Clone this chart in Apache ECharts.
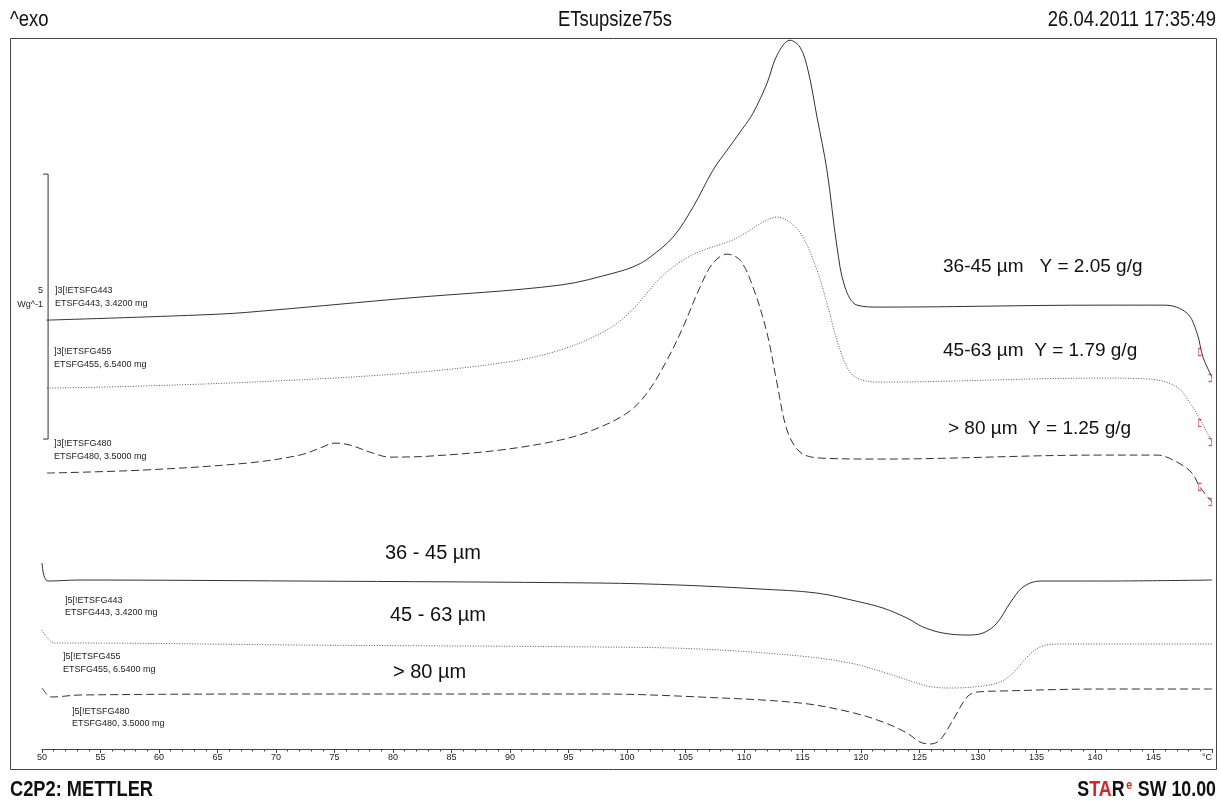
<!DOCTYPE html>
<html>
<head>
<meta charset="utf-8">
<script src="https://cdn.jsdelivr.net/npm/echarts@6/dist/echarts.min.js"></script>
<style>
html,body{margin:0;padding:0;background:#fff;}
#c{width:1221px;height:802px;}
</style>
</head>
<body>
<div id="c"></div>
<script>
// x: temperature (°C), y: heat flow offset in W/g (5 W/g scale bar)
var upper_36_45 = [[50.40,8.094],[65.21,8.208],[69.74,8.283],[81.20,8.509],[94.27,8.755],[99.15,9.000],[100.85,9.132],[101.97,9.283],[103.93,9.660],[105.64,10.226],[107.35,10.925],[108.55,11.302],[109.91,11.717],[110.77,12.000],[111.97,12.566],[112.82,13.094],[113.93,13.377],[114.79,13.245],[115.47,12.811],[116.24,11.925],[117.09,10.925],[117.95,9.472],[118.63,8.717],[119.66,8.377],[121.62,8.340],[140.43,8.377],[145.98,8.377],[147.86,8.226],[148.72,7.849],[149.23,7.396],[150.0,7.019]];
var upper_45_63 = [[50.43,6.811],[58.38,6.849],[69.74,6.943],[81.20,7.094],[89.74,7.302],[94.27,7.528],[97.95,7.868],[100.0,8.189],[101.71,8.604],[102.82,8.887],[104.79,9.226],[106.50,9.415],[108.80,9.585],[110.26,9.755],[111.62,9.943],[112.82,10.038],[113.93,9.943],[115.04,9.660],[116.24,9.038],[117.09,8.415],[117.95,7.717],[118.80,7.208],[119.66,7.000],[121.62,6.925],[140.43,7.000],[144.70,6.981],[147.01,6.830],[148.12,6.528],[149.15,6.151],[150.0,5.792]];
var upper_80 = [[50.43,5.208],[58.63,5.264],[67.52,5.396],[72.05,5.547],[73.76,5.679],[75.04,5.774],[76.32,5.736],[78.03,5.604],[79.74,5.509],[83.16,5.528],[89.15,5.642],[94.27,5.830],[97.09,6.019],[100.0,6.340],[101.71,6.717],[103.42,7.340],[104.79,7.962],[106.24,8.717],[107.35,9.170],[108.55,9.340],[109.66,9.226],[110.77,8.717],[111.97,7.849],[112.82,6.906],[113.68,6.019],[114.79,5.604],[116.50,5.491],[121.62,5.472],[140.43,5.547],[145.30,5.547],[147.01,5.415],[148.29,5.208],[148.97,4.943],[150.0,4.660]];
var lower_36_45 = [[50.0,3.509],[50.51,3.170],[53.25,3.189],[72.05,3.170],[97.69,3.132],[104.53,3.094],[111.37,3.019],[116.24,2.943],[119.91,2.774],[121.88,2.660],[123.93,2.472],[125.30,2.302],[127.01,2.189],[129.06,2.151],[130.43,2.189],[131.62,2.377],[132.74,2.755],[133.85,3.057],[135.30,3.170],[140.43,3.170],[150.0,3.189]];
var lower_45_63 = [[50.0,2.245],[51.11,2.0],[53.25,2.0],[72.05,1.962],[97.69,1.925],[106.24,1.887],[114.79,1.755],[119.06,1.623],[121.88,1.453],[124.79,1.245],[126.15,1.170],[127.61,1.151],[130.43,1.189],[131.88,1.264],[132.99,1.434],[134.19,1.736],[135.30,1.925],[136.75,1.981],[140.43,1.981],[150.0,1.981]];
var lower_80 = [[50.0,1.151],[50.85,0.981],[53.25,1.019],[72.05,1.038],[97.69,1.038],[106.24,0.981],[114.79,0.868],[119.06,0.698],[121.88,0.509],[123.93,0.302],[125.04,0.132],[125.90,0.094],[126.75,0.170],[127.86,0.547],[129.06,0.981],[129.91,1.075],[131.88,1.094],[140.43,1.132],[150.0,1.132]];
var scaleBar = [[50.09,10.85],[50.52,10.85],[50.52,5.85],[50.09,5.85]];
var limitOpen = [[148.97,7.491],[148.97,6.151],[148.97,4.943]];
var limitClose = [[150.0,7.0],[150.0,5.792],[150.0,4.660]];
var xTickLabels = ['50','55','60','65','70','75','80','85','90','95','100','105','110','115','120','125','130','135','140','145','°C'];

var chart = echarts.init(document.getElementById('c'), null, {renderer:'canvas'});
var F = 'Liberation Sans, Arial, sans-serif';
function lineSeries(data, type, color){
  return {type:'line', data:data, showSymbol:false, smooth:0.35, silent:true,
    lineStyle:{color:color, width:1, type:type}, z:3};
}
var smallTxt = {fill:'#222', font:'9px ' + F};
function txt(x,y,s,style){
  return {type:'text', left:x, top:y, style:Object.assign({text:s}, style)};
}
// condensed header/footer text, positioned by anchor point
function ntxt(x,y,s,align,font,sx){
  return {type:'text', x:x, y:y, scaleX:sx, silent:true,
    style:{text:s, align:align, verticalAlign:'middle', fill:'#111', font:font}};
}
chart.setOption({
  animation:false,
  backgroundColor:'#fff',
  grid:{left:42, right:9, top:39, bottom:53, containLabel:false},
  xAxis:{type:'value', min:50, max:150, interval:5,
    axisLine:{show:true, lineStyle:{color:'#444', width:1}},
    axisTick:{show:true, length:4, lineStyle:{color:'#444'}},
    minorTick:{show:true, splitNumber:5, length:2.5, lineStyle:{color:'#444'}},
    splitLine:{show:false},
    axisLabel:{color:'#222', fontSize:9, fontFamily:F, margin:4, alignMaxLabel:'right',
      formatter:function(v){ return xTickLabels[Math.round((v-50)/5)]; }}
  },
  yAxis:{type:'value', min:0, max:13.4, show:false, splitLine:{show:false}},
  series:[
    lineSeries(upper_36_45, 'solid', '#333'),
    lineSeries(upper_45_63, [1,1.6], '#555'),
    lineSeries(upper_80, [8,4], '#333'),
    lineSeries(lower_36_45, 'solid', '#333'),
    lineSeries(lower_45_63, [1,1.6], '#555'),
    lineSeries(lower_80, [8,4], '#333'),
    {type:'line', data:scaleBar, showSymbol:false, silent:true, lineStyle:{color:'#333', width:1}},
    {type:'scatter', data:limitOpen, symbol:'path://M3,0 L0,0 L0,10 L3,10', symbolSize:[3,7], symbolOffset:[0,0],
      itemStyle:{color:'none', borderColor:'#e03030', borderWidth:1}, silent:true, z:4},
    {type:'scatter', data:limitClose, symbol:'path://M0,0 L3,0 L3,10 L0,10', symbolSize:[3,7], symbolOffset:[-2,0],
      itemStyle:{color:'none', borderColor:'#e03030', borderWidth:1}, silent:true, z:4}
  ],
  graphic:[
    {type:'rect', shape:{x:10.5, y:38.5, width:1206, height:731}, style:{fill:'none', stroke:'#444', lineWidth:1}, silent:true, z:-1},
    ntxt(10,20,'^exo','left','22px ' + F, 0.84),
    ntxt(615,20,'ETsupsize75s','center','22px ' + F, 0.84),
    ntxt(1216,20,'26.04.2011 17:35:49','right','22px ' + F, 0.84),
    ntxt(10,790,'C2P2: METTLER','left','bold 22px ' + F, 0.83),
    {type:'text', x:1216, y:790, scaleX:0.81, silent:true, style:{
      text:'{k|S}{r|TA}{k|R}{e|e}{k| SW 10.00}', align:'right', verticalAlign:'middle',
      rich:{k:{fill:'#111', font:'bold 22px ' + F}, r:{fill:'#e02020', font:'bold 22px ' + F},
            e:{fill:'#e02020', font:'bold 13px ' + F, verticalAlign:'top', padding:[0,1,9,2]}}}},
    // scale bar label
    {type:'text', right:1221-43, top:286, style:{text:'5', fill:'#222', font:'9px ' + F, align:'right'}},
    {type:'text', right:1221-43, top:300, style:{text:'Wg^-1', fill:'#222', font:'9px ' + F, align:'right'}},
    // curve identifiers, upper group
    txt(55,286,']3[!ETSFG443',smallTxt), txt(55,299,'ETSFG443, 3.4200 mg',smallTxt),
    txt(54,347,']3[!ETSFG455',smallTxt), txt(54,360,'ETSFG455, 6.5400 mg',smallTxt),
    txt(54,439,']3[!ETSFG480',smallTxt), txt(54,452,'ETSFG480, 3.5000 mg',smallTxt),
    // lower group
    txt(65,596,']5[!ETSFG443',smallTxt), txt(65,608,'ETSFG443, 3.4200 mg',smallTxt),
    txt(63,652,']5[!ETSFG455',smallTxt), txt(63,665,'ETSFG455, 6.5400 mg',smallTxt),
    txt(72,707,']5[!ETSFG480',smallTxt), txt(72,719,'ETSFG480, 3.5000 mg',smallTxt),
    // annotations
    txt(943,257,'36-45 µm   Y = 2.05 g/g',{fill:'#111', font:'19px ' + F}),
    txt(943,341,'45-63 µm  Y = 1.79 g/g',{fill:'#111', font:'19px ' + F}),
    txt(948,419,'> 80 µm  Y = 1.25 g/g',{fill:'#111', font:'19px ' + F}),
    txt(385,543,'36 - 45 µm',{fill:'#111', font:'20px ' + F}),
    txt(390,605,'45 - 63 µm',{fill:'#111', font:'20px ' + F}),
    txt(393,662,'> 80 µm',{fill:'#111', font:'20px ' + F})
  ]
});
</script>
</body>
</html>
